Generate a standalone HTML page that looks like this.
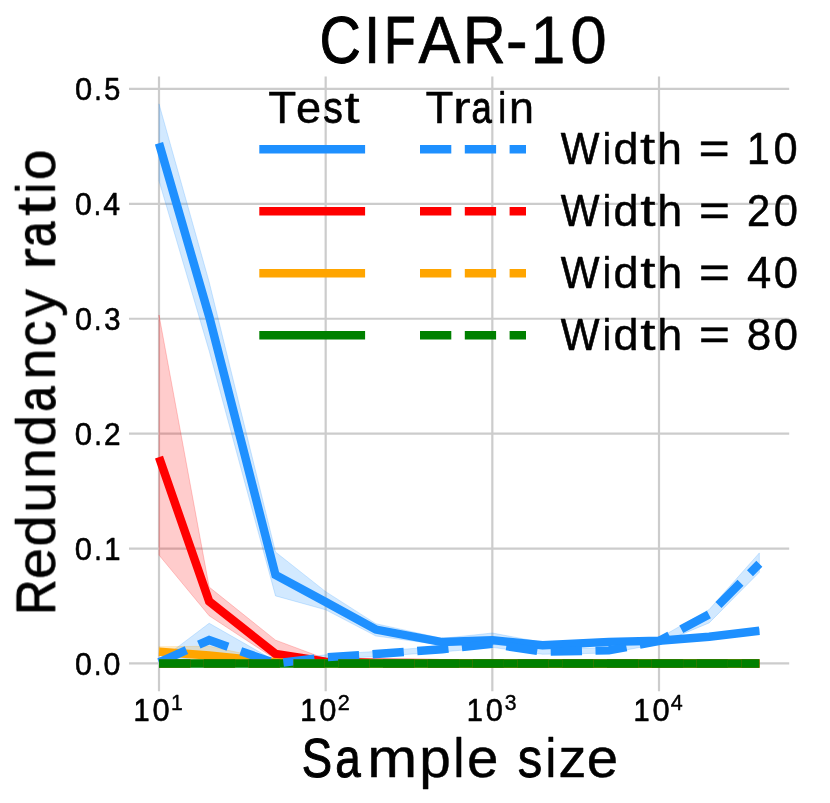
<!DOCTYPE html>
<html lang="en"><head><meta charset="utf-8"><title>CIFAR-10 redundancy ratio</title>
<style>html,body{margin:0;padding:0;background:#fff}svg{display:block}text{font-family:"Liberation Sans",sans-serif;fill:#000;font-kerning:none}</style></head><body>
<svg width="830" height="803" viewBox="0 0 830 803">
<rect width="830" height="803" fill="#ffffff"/>
<g stroke="#cccccc" stroke-width="2.2" fill="none">
<line x1="159.00" y1="76.5" x2="159.00" y2="691.3"/>
<line x1="325.67" y1="76.5" x2="325.67" y2="691.3"/>
<line x1="492.33" y1="76.5" x2="492.33" y2="691.3"/>
<line x1="659.00" y1="76.5" x2="659.00" y2="691.3"/>
<line x1="129.0" y1="663.45" x2="789.2" y2="663.45"/>
<line x1="129.0" y1="548.55" x2="789.2" y2="548.55"/>
<line x1="129.0" y1="433.65" x2="789.2" y2="433.65"/>
<line x1="129.0" y1="318.75" x2="789.2" y2="318.75"/>
<line x1="129.0" y1="203.85" x2="789.2" y2="203.85"/>
<line x1="129.0" y1="88.95" x2="789.2" y2="88.95"/>
</g>
<g>
<polygon points="159.00,103.89 209.17,281.98 275.50,552.00 325.67,591.64 375.84,623.69 442.16,638.40 492.33,633.00 542.51,642.42 608.83,638.63 659.00,638.29 709.17,634.84 759.34,628.41 759.34,633.00 709.17,638.75 659.00,643.34 608.83,645.07 542.51,647.94 492.33,644.49 442.16,645.07 375.84,635.99 325.67,609.79 275.50,595.89 209.17,350.92 159.00,180.87" fill="#1e90ff" fill-opacity="0.2" stroke="#1e90ff" stroke-opacity="0.2" stroke-width="1"/>
<polygon points="159.00,661.15 209.17,623.24 275.50,661.15 325.67,654.83 375.84,651.39 442.16,646.22 492.33,640.47 542.51,649.09 608.83,647.59 659.00,638.17 709.17,609.56 759.34,552.92 759.34,572.22 709.17,622.89 659.00,643.92 608.83,653.11 542.51,654.26 492.33,647.36 442.16,651.96 375.84,656.56 325.67,659.43 275.50,663.45 209.17,654.49 159.00,663.45" fill="#1e90ff" fill-opacity="0.2" stroke="#1e90ff" stroke-opacity="0.2" stroke-width="1"/>
<polygon points="159.00,314.96 209.17,587.04 275.50,640.13 325.67,658.85 375.84,661.73 442.16,662.53 492.33,663.45 542.51,663.45 608.83,663.45 659.00,663.45 709.17,663.45 759.34,663.45 759.34,663.45 709.17,663.45 659.00,663.45 608.83,663.45 542.51,663.45 492.33,663.45 442.16,663.45 375.84,663.45 325.67,662.88 275.50,659.31 209.17,615.77 159.00,555.10" fill="#ff0000" fill-opacity="0.2" stroke="#ff0000" stroke-opacity="0.2" stroke-width="1"/>
<polygon points="159.00,646.79 209.17,646.22 275.50,660.58 325.67,663.45 375.84,663.45 442.16,663.45 492.33,663.45 542.51,663.45 608.83,663.45 659.00,663.45 709.17,663.45 759.34,663.45 759.34,663.45 709.17,663.45 659.00,663.45 608.83,663.45 542.51,663.45 492.33,663.45 442.16,663.45 375.84,663.45 325.67,663.45 275.50,663.45 209.17,661.15 159.00,654.26" fill="#ffa500" fill-opacity="0.2" stroke="#ffa500" stroke-opacity="0.2" stroke-width="1"/>
</g>
<g>
<polyline points="159.00,143.30 209.17,316.45 275.50,574.98 325.67,601.98 375.84,629.55 442.16,642.08 492.33,640.13 542.51,645.18 608.83,641.85 659.00,640.81 709.17,636.79 759.34,630.70" fill="none" stroke="#1e90ff" stroke-width="8.45" stroke-linejoin="miter" stroke-linecap="butt"/>
<polyline points="159.00,457.20 209.17,601.40 275.50,653.91 325.67,661.61 375.84,662.65 442.16,663.11 492.33,663.45 542.51,663.45 608.83,663.45 659.00,663.45 709.17,663.45 759.34,663.45" fill="none" stroke="#ff0000" stroke-width="8.45" stroke-linejoin="miter" stroke-linecap="butt"/>
<polyline points="159.00,651.73 209.17,655.52 275.50,662.30 325.67,663.45 375.84,663.45 442.16,663.45 492.33,663.45 542.51,663.45 608.83,663.45 659.00,663.45 709.17,663.45 759.34,663.45" fill="none" stroke="#ffa500" stroke-width="8.45" stroke-linejoin="miter" stroke-linecap="butt"/>
<polyline points="159.00,663.45 209.17,663.45 275.50,663.45 325.67,663.45 375.84,663.45 442.16,663.45 492.33,663.45 542.51,663.45 608.83,663.45 659.00,663.45 709.17,663.45 759.34,663.45" fill="none" stroke="#008000" stroke-width="8.45" stroke-linejoin="miter" stroke-linecap="butt"/>
<polyline points="159.00,662.30 209.17,640.13 275.50,663.45 325.67,657.25 375.84,654.03 442.16,649.20 492.33,643.92 542.51,651.73 608.83,650.35 659.00,641.04 709.17,614.39 759.34,563.72" fill="none" stroke="#1e90ff" stroke-width="8.45" stroke-linejoin="miter" stroke-linecap="butt" stroke-dasharray="31.3 13.5" stroke-dashoffset="1.3"/>
<polyline points="159.00,663.45 209.17,663.45 275.50,663.45 325.67,663.45 375.84,663.45 442.16,663.45 492.33,663.45 542.51,663.45 608.83,663.45 659.00,663.45 709.17,663.45 759.34,663.45" fill="none" stroke="#ff0000" stroke-width="8.45" stroke-linejoin="miter" stroke-linecap="butt" stroke-dasharray="31.3 13.5" stroke-opacity="0.4"/>
<polyline points="159.00,663.45 209.17,663.45 275.50,663.45 325.67,663.45 375.84,663.45 442.16,663.45 492.33,663.45 542.51,663.45 608.83,663.45 659.00,663.45 709.17,663.45 759.34,663.45" fill="none" stroke="#ffa500" stroke-width="8.45" stroke-linejoin="miter" stroke-linecap="butt" stroke-dasharray="31.3 13.5" stroke-opacity="0.4"/>
<polyline points="159.00,663.45 209.17,663.45 275.50,663.45 325.67,663.45 375.84,663.45 442.16,663.45 492.33,663.45 542.51,663.45 608.83,663.45 659.00,663.45 709.17,663.45 759.34,663.45" fill="none" stroke="#008000" stroke-width="8.45" stroke-linejoin="miter" stroke-linecap="butt" stroke-dasharray="31.3 13.5"/>
</g>
<g>
<line x1="259.3" y1="149.3" x2="365.1" y2="149.3" stroke="#1e90ff" stroke-width="8.45"/>
<line x1="420.0" y1="149.3" x2="526.0" y2="149.3" stroke="#1e90ff" stroke-width="8.45" stroke-dasharray="31.3 13.5"/>
<line x1="259.3" y1="211.3" x2="365.1" y2="211.3" stroke="#ff0000" stroke-width="8.45"/>
<line x1="420.0" y1="211.3" x2="526.0" y2="211.3" stroke="#ff0000" stroke-width="8.45" stroke-dasharray="31.3 13.5"/>
<line x1="259.3" y1="273.3" x2="365.1" y2="273.3" stroke="#ffa500" stroke-width="8.45"/>
<line x1="420.0" y1="273.3" x2="526.0" y2="273.3" stroke="#ffa500" stroke-width="8.45" stroke-dasharray="31.3 13.5"/>
<line x1="259.3" y1="335.3" x2="365.1" y2="335.3" stroke="#008000" stroke-width="8.45"/>
<line x1="420.0" y1="335.3" x2="526.0" y2="335.3" stroke="#008000" stroke-width="8.45" stroke-dasharray="31.3 13.5"/>
</g>
<g opacity="0.999" stroke-linejoin="round">
<text y="63.25" font-size="66.42" stroke="#000" stroke-width="0.5"><tspan x="319.56" textLength="41.33" lengthAdjust="spacingAndGlyphs" stroke-width="1.03">C</tspan><tspan x="363.44" textLength="17.14" lengthAdjust="spacingAndGlyphs">I</tspan><tspan x="383.93" textLength="31.70" lengthAdjust="spacingAndGlyphs" stroke-width="1.20">F</tspan><tspan x="418.55" textLength="41.89" lengthAdjust="spacingAndGlyphs" stroke-width="0.71">A</tspan><tspan x="463.04" textLength="42.67" lengthAdjust="spacingAndGlyphs" stroke-width="0.92">R</tspan><tspan x="505.66" textLength="22.06" lengthAdjust="spacingAndGlyphs">-</tspan><tspan x="530.75" textLength="34.53" lengthAdjust="spacingAndGlyphs" stroke-width="0.76">1</tspan><tspan x="570.36" textLength="36.54" lengthAdjust="spacingAndGlyphs">0</tspan></text>
<text y="123.35" font-size="43.90" stroke="#000" stroke-width="0.5"><tspan x="268.27" textLength="28.00" lengthAdjust="spacingAndGlyphs" stroke-width="0.40">T</tspan><tspan x="295.94" textLength="25.13" lengthAdjust="spacingAndGlyphs" stroke-width="0.42">e</tspan><tspan x="323.17" textLength="19.56" lengthAdjust="spacingAndGlyphs" stroke-width="0.78">s</tspan><tspan x="344.29" textLength="15.41" lengthAdjust="spacingAndGlyphs" stroke-width="0.40">t</tspan></text>
<text y="123.35" font-size="43.90" stroke="#000" stroke-width="0.5"><tspan x="425.57" textLength="27.95" lengthAdjust="spacingAndGlyphs" stroke-width="0.40">T</tspan><tspan x="453.10" textLength="17.65" lengthAdjust="spacingAndGlyphs" stroke-width="0.40">r</tspan><tspan x="471.54" textLength="20.30" lengthAdjust="spacingAndGlyphs" stroke-width="0.93">a</tspan><tspan x="497.91" textLength="8.41" lengthAdjust="spacingAndGlyphs">i</tspan><tspan x="509.12" textLength="24.97" lengthAdjust="spacingAndGlyphs" stroke-width="0.44">n</tspan></text>
<text y="163.65" font-size="43.90" stroke="#000" stroke-width="0.5"><tspan x="560.85" textLength="38.63" lengthAdjust="spacingAndGlyphs" stroke-width="0.67">W</tspan><tspan x="602.78" textLength="8.33" lengthAdjust="spacingAndGlyphs">i</tspan><tspan x="613.45" textLength="24.99" lengthAdjust="spacingAndGlyphs" stroke-width="0.44">d</tspan><tspan x="640.10" textLength="15.25" lengthAdjust="spacingAndGlyphs" stroke-width="0.40">t</tspan><tspan x="657.11" textLength="24.91" lengthAdjust="spacingAndGlyphs" stroke-width="0.45">h</tspan> <tspan x="698.41" textLength="31.30" lengthAdjust="spacingAndGlyphs" stroke-width="0.40">=</tspan> <tspan x="747.02" textLength="22.78" lengthAdjust="spacingAndGlyphs" stroke-width="0.67">1</tspan><tspan x="773.39" textLength="24.15" lengthAdjust="spacingAndGlyphs">0</tspan></text>
<text y="225.65" font-size="43.90" stroke="#000" stroke-width="0.5"><tspan x="560.85" textLength="38.72" lengthAdjust="spacingAndGlyphs" stroke-width="0.66">W</tspan><tspan x="602.87" textLength="8.35" lengthAdjust="spacingAndGlyphs">i</tspan><tspan x="613.56" textLength="25.05" lengthAdjust="spacingAndGlyphs" stroke-width="0.43">d</tspan><tspan x="640.27" textLength="15.28" lengthAdjust="spacingAndGlyphs" stroke-width="0.40">t</tspan><tspan x="657.31" textLength="24.97" lengthAdjust="spacingAndGlyphs" stroke-width="0.44">h</tspan> <tspan x="698.70" textLength="31.36" lengthAdjust="spacingAndGlyphs" stroke-width="0.40">=</tspan> <tspan x="746.88" textLength="23.14" lengthAdjust="spacingAndGlyphs" stroke-width="0.63">2</tspan><tspan x="773.83" textLength="24.21" lengthAdjust="spacingAndGlyphs">0</tspan></text>
<text y="287.65" font-size="43.90" stroke="#000" stroke-width="0.5"><tspan x="560.85" textLength="38.72" lengthAdjust="spacingAndGlyphs" stroke-width="0.66">W</tspan><tspan x="602.87" textLength="8.35" lengthAdjust="spacingAndGlyphs">i</tspan><tspan x="613.56" textLength="25.05" lengthAdjust="spacingAndGlyphs" stroke-width="0.43">d</tspan><tspan x="640.27" textLength="15.28" lengthAdjust="spacingAndGlyphs" stroke-width="0.40">t</tspan><tspan x="657.31" textLength="24.97" lengthAdjust="spacingAndGlyphs" stroke-width="0.44">h</tspan> <tspan x="698.70" textLength="31.36" lengthAdjust="spacingAndGlyphs" stroke-width="0.40">=</tspan> <tspan x="746.88" textLength="24.24" lengthAdjust="spacingAndGlyphs">4</tspan><tspan x="773.83" textLength="24.21" lengthAdjust="spacingAndGlyphs">0</tspan></text>
<text y="349.65" font-size="43.90" stroke="#000" stroke-width="0.5"><tspan x="560.85" textLength="38.72" lengthAdjust="spacingAndGlyphs" stroke-width="0.66">W</tspan><tspan x="602.87" textLength="8.35" lengthAdjust="spacingAndGlyphs">i</tspan><tspan x="613.56" textLength="25.05" lengthAdjust="spacingAndGlyphs" stroke-width="0.43">d</tspan><tspan x="640.27" textLength="15.28" lengthAdjust="spacingAndGlyphs" stroke-width="0.40">t</tspan><tspan x="657.31" textLength="24.97" lengthAdjust="spacingAndGlyphs" stroke-width="0.44">h</tspan> <tspan x="698.70" textLength="31.36" lengthAdjust="spacingAndGlyphs" stroke-width="0.40">=</tspan> <tspan x="746.76" textLength="24.50" lengthAdjust="spacingAndGlyphs">8</tspan><tspan x="773.83" textLength="24.21" lengthAdjust="spacingAndGlyphs">0</tspan></text>
<text y="674.63" font-size="31.18" stroke="#000" stroke-width="0.55"><tspan x="74.91" textLength="16.88" lengthAdjust="spacingAndGlyphs">0</tspan><tspan x="93.94" textLength="7.41" lengthAdjust="spacingAndGlyphs">.</tspan><tspan x="103.51" textLength="16.88" lengthAdjust="spacingAndGlyphs">0</tspan></text>
<text y="559.73" font-size="31.18" stroke="#000" stroke-width="0.55"><tspan x="74.87" textLength="17.24" lengthAdjust="spacingAndGlyphs">0</tspan><tspan x="94.25" textLength="7.57" lengthAdjust="spacingAndGlyphs">.</tspan><tspan x="104.37" textLength="16.22" lengthAdjust="spacingAndGlyphs" stroke-width="0.67">1</tspan></text>
<text y="444.83" font-size="31.18" stroke="#000" stroke-width="0.55"><tspan x="74.86" textLength="17.35" lengthAdjust="spacingAndGlyphs">0</tspan><tspan x="94.35" textLength="7.62" lengthAdjust="spacingAndGlyphs">.</tspan><tspan x="104.12" textLength="16.57" lengthAdjust="spacingAndGlyphs" stroke-width="0.63">2</tspan></text>
<text y="329.93" font-size="31.18" stroke="#000" stroke-width="0.55"><tspan x="74.89" textLength="17.06" lengthAdjust="spacingAndGlyphs">0</tspan><tspan x="94.10" textLength="7.49" lengthAdjust="spacingAndGlyphs">.</tspan><tspan x="104.20" textLength="16.26" lengthAdjust="spacingAndGlyphs" stroke-width="0.66">3</tspan></text>
<text y="215.03" font-size="31.18" stroke="#000" stroke-width="0.55"><tspan x="74.93" textLength="16.74" lengthAdjust="spacingAndGlyphs" stroke-width="0.61">0</tspan><tspan x="93.82" textLength="7.34" lengthAdjust="spacingAndGlyphs">.</tspan><tspan x="103.30" textLength="16.78" lengthAdjust="spacingAndGlyphs" stroke-width="0.61">4</tspan></text>
<text y="100.13" font-size="31.18" stroke="#000" stroke-width="0.55"><tspan x="74.88" textLength="17.17" lengthAdjust="spacingAndGlyphs">0</tspan><tspan x="94.19" textLength="7.54" lengthAdjust="spacingAndGlyphs">.</tspan><tspan x="104.35" textLength="16.02" lengthAdjust="spacingAndGlyphs" stroke-width="0.69">5</tspan></text>
<text y="720.62" font-size="31.18" stroke="#000" stroke-width="0.55"><tspan x="133.53" textLength="16.14" lengthAdjust="spacingAndGlyphs" stroke-width="0.68">1</tspan><tspan x="152.47" textLength="17.15" lengthAdjust="spacingAndGlyphs">0</tspan></text>
<text y="709.67" font-size="21.73" stroke="#000" stroke-width="0.45"><tspan x="170.93" textLength="11.76" lengthAdjust="spacingAndGlyphs">1</tspan></text>
<text y="720.62" font-size="31.18" stroke="#000" stroke-width="0.55"><tspan x="300.20" textLength="16.14" lengthAdjust="spacingAndGlyphs" stroke-width="0.68">1</tspan><tspan x="319.14" textLength="17.15" lengthAdjust="spacingAndGlyphs">0</tspan></text>
<text y="709.67" font-size="21.73" stroke="#000" stroke-width="0.45"><tspan x="337.66" textLength="12.02" lengthAdjust="spacingAndGlyphs">2</tspan></text>
<text y="720.62" font-size="31.18" stroke="#000" stroke-width="0.55"><tspan x="466.86" textLength="16.14" lengthAdjust="spacingAndGlyphs" stroke-width="0.68">1</tspan><tspan x="485.81" textLength="17.15" lengthAdjust="spacingAndGlyphs">0</tspan></text>
<text y="709.67" font-size="21.73" stroke="#000" stroke-width="0.45"><tspan x="504.77" textLength="11.75" lengthAdjust="spacingAndGlyphs">3</tspan></text>
<text y="720.62" font-size="31.18" stroke="#000" stroke-width="0.55"><tspan x="633.53" textLength="16.14" lengthAdjust="spacingAndGlyphs" stroke-width="0.68">1</tspan><tspan x="652.47" textLength="17.15" lengthAdjust="spacingAndGlyphs">0</tspan></text>
<text y="709.67" font-size="21.73" stroke="#000" stroke-width="0.45"><tspan x="670.84" textLength="11.96" lengthAdjust="spacingAndGlyphs">4</tspan></text>
<text y="776.75" font-size="54.65" stroke="#000" stroke-width="0.5"><tspan x="301.84" textLength="30.37" lengthAdjust="spacingAndGlyphs" stroke-width="1.02">S</tspan><tspan x="335.35" textLength="25.45" lengthAdjust="spacingAndGlyphs" stroke-width="1.02">a</tspan><tspan x="367.17" textLength="49.90" lengthAdjust="spacingAndGlyphs" stroke-width="0.40">m</tspan><tspan x="419.19" textLength="31.62" lengthAdjust="spacingAndGlyphs" stroke-width="0.40">p</tspan><tspan x="453.50" textLength="10.79" lengthAdjust="spacingAndGlyphs">l</tspan><tspan x="467.00" textLength="31.41" lengthAdjust="spacingAndGlyphs" stroke-width="0.40">e</tspan> <tspan x="517.73" textLength="24.48" lengthAdjust="spacingAndGlyphs" stroke-width="0.83">s</tspan><tspan x="545.46" textLength="10.79" lengthAdjust="spacingAndGlyphs">i</tspan><tspan x="558.44" textLength="27.91" lengthAdjust="spacingAndGlyphs" stroke-width="0.43">z</tspan><tspan x="586.80" textLength="31.41" lengthAdjust="spacingAndGlyphs" stroke-width="0.40">e</tspan></text>
<text transform="translate(54.85,611.40) rotate(-90)" font-size="54.65" stroke="#000" stroke-width="0.5"><tspan x="-3.62" textLength="35.48" lengthAdjust="spacingAndGlyphs" stroke-width="0.82">R</tspan><tspan x="32.25" textLength="31.24" lengthAdjust="spacingAndGlyphs" stroke-width="0.41">e</tspan><tspan x="64.75" textLength="31.43" lengthAdjust="spacingAndGlyphs" stroke-width="0.40">d</tspan><tspan x="98.60" textLength="31.11" lengthAdjust="spacingAndGlyphs" stroke-width="0.42">u</tspan><tspan x="132.30" textLength="31.11" lengthAdjust="spacingAndGlyphs" stroke-width="0.42">n</tspan><tspan x="165.22" textLength="31.43" lengthAdjust="spacingAndGlyphs" stroke-width="0.40">d</tspan><tspan x="199.76" textLength="25.30" lengthAdjust="spacingAndGlyphs" stroke-width="1.03">a</tspan><tspan x="231.66" textLength="31.11" lengthAdjust="spacingAndGlyphs" stroke-width="0.42">n</tspan><tspan x="264.91" textLength="25.69" lengthAdjust="spacingAndGlyphs" stroke-width="0.69">c</tspan><tspan x="294.53" textLength="27.92" lengthAdjust="spacingAndGlyphs" stroke-width="0.43">y</tspan> <tspan x="341.53" textLength="22.00" lengthAdjust="spacingAndGlyphs" stroke-width="0.40">r</tspan><tspan x="364.39" textLength="25.30" lengthAdjust="spacingAndGlyphs" stroke-width="1.03">a</tspan><tspan x="395.57" textLength="19.18" lengthAdjust="spacingAndGlyphs" stroke-width="0.40">t</tspan><tspan x="417.70" textLength="10.73" lengthAdjust="spacingAndGlyphs">i</tspan><tspan x="431.21" textLength="30.67" lengthAdjust="spacingAndGlyphs">o</tspan></text>
</g>
</svg></body></html>
